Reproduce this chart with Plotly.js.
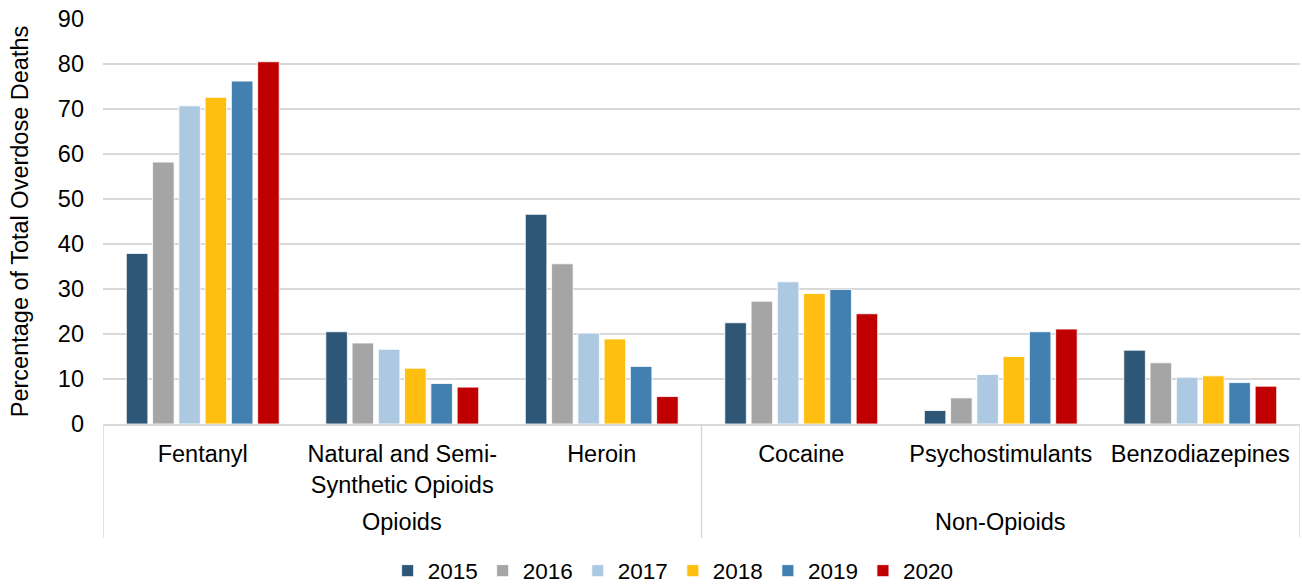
<!DOCTYPE html>
<html>
<head>
<meta charset="utf-8">
<script src="https://cdn.plot.ly/plotly-3.0.1.min.js"></script>
<style>html,body{margin:0;padding:0;background:#fff;}#chart{width:1302px;height:587px;}</style>
</head>
<body>
<div id="chart"></div>
<script>
const categories = ["Fentanyl", "Natural and Semi-<br>Synthetic Opioids", "Heroin", "Cocaine", "Psychostimulants", "Benzodiazepines"];
const groups = ["Opioids", "Non-Opioids"];
const years = ["2015", "2016", "2017", "2018", "2019", "2020"];
const v2015 = [37.9, 20.5, 46.6, 22.5, 3.0, 16.4];
const v2016 = [58.2, 18.0, 35.6, 27.3, 5.8, 13.6];
const v2017 = [70.7, 16.6, 20.2, 31.6, 11.0, 10.4];
const v2018 = [72.6, 12.4, 18.9, 29.0, 15.0, 10.7];
const v2019 = [76.2, 9.0, 12.8, 29.9, 20.5, 9.2];
const v2020 = [80.5, 8.2, 6.1, 24.5, 21.1, 8.4];
const colors = ["#2E5676", "#A5A5A5", "#ADC9E1", "#FFBF10", "#4280B2", "#C00000"];

const series = [v2015, v2016, v2017, v2018, v2019, v2020];
const traces = series.map((vals, i) => ({
  type: "bar",
  name: years[i],
  x: categories,
  y: vals,
  marker: {color: colors[i], line: {color: "#ffffff", width: 0.8}},
  hoverinfo: "y+name"
}));

const font = {family: "Liberation Sans, Arial, sans-serif", size: 23.5, color: "#000"};
const legendFont = {family: "Liberation Sans, Arial, sans-serif", size: 22.5, color: "#000"};
const divY = -(538 - 424) / 405;
const shapes = [-0.5, 2.5, 5.5].map(xv => ({
  type: "line", xref: "x", yref: "paper", x0: xv, x1: xv, y0: 0, y1: divY,
  line: {color: "#D9D9D9", width: 1.5}
}));
const annotations = [
  {text: groups[0], xref: "x", yref: "paper", x: 1, y: -(522 - 424) / 405, yanchor: "middle", showarrow: false, font: font},
  {text: groups[1], xref: "x", yref: "paper", x: 4, y: -(522 - 424) / 405, yanchor: "middle", showarrow: false, font: font}
];

const layout = {
  width: 1302, height: 587,
  margin: {l: 103, r: 2, t: 19, b: 163, autoexpand: false},
  paper_bgcolor: "#fff", plot_bgcolor: "#fff",
  font: font,
  barmode: "group",
  bargap: 0.21,
  bargroupgap: 0.18,
  showlegend: true,
  legend: {orientation: "h", x: 0.517, xref: "container", xanchor: "center", y: -(571 - 424) / 405, yref: "paper", yanchor: "middle",
           font: legendFont, traceorder: "normal", itemwidth: 30, tracegroupgap: 0},
  xaxis: {type: "category", showgrid: false, zeroline: false, showline: true, linecolor: "#D9D9D9", linewidth: 2,
          ticks: "", ticklabelstandoff: 8, tickfont: font, range: [-0.5, 5.5], automargin: false},
  yaxis: {range: [0, 90], dtick: 10, showgrid: true, gridcolor: "#D9D9D9", gridwidth: 2, zeroline: false,
          ticks: "", tickfont: font, ticklabelstandoff: 18, automargin: false,
          title: {text: "Percentage of Total Overdose Deaths", font: font, standoff: 22}},
  shapes: shapes,
  annotations: annotations
};

Plotly.newPlot("chart", traces, layout, {displayModeBar: false});
</script>
</body>
</html>
